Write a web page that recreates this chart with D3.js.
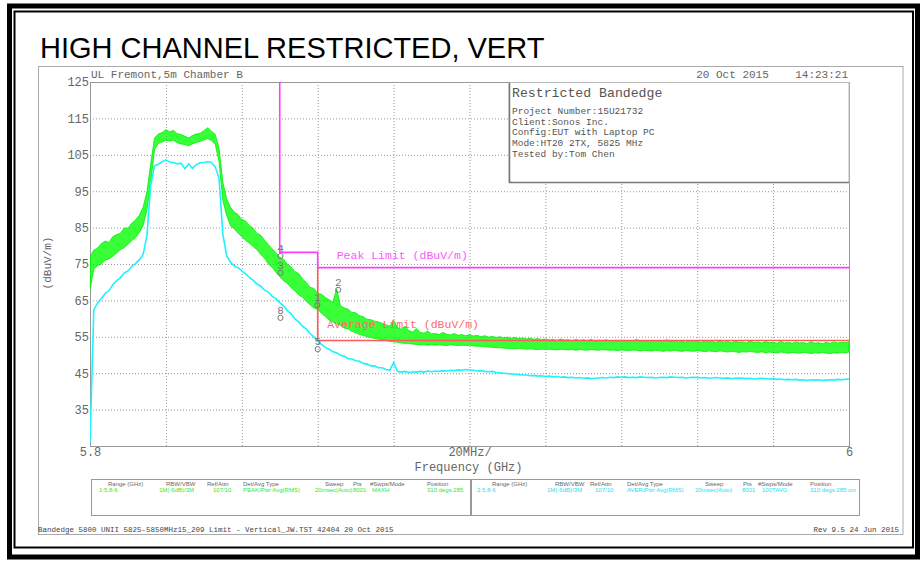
<!DOCTYPE html>
<html>
<head>
<meta charset="utf-8">
<script src="https://cdn.jsdelivr.net/npm/d3@7"></script>
<style>
  body { margin: 0; background: #fff; }
  .mono { font-family: "Liberation Mono", "DejaVu Sans Mono", monospace; }
</style>
</head>
<body>
<div id="chart"></div>
<script>
/*
 Restricted bandedge plot - high channel, vertical
*/

// sweep settings (GHz), 201 display points
var sweepStart = 5.8;
var sweepStop = 6.0;

// trace 1 : peak / MAXH, drawn as min-max envelope (dBuV/m)
var peakHi = [
  77.0, 78.8, 79.4, 80.6, 81.3, 80.9, 82.5, 83.1, 83.4, 84.9,
  84.8, 86.2, 87.1, 88.4, 90.6, 94.8, 102.5, 109.6, 110.7, 111.1,
  111.9, 111.3, 111.7, 110.8, 110.6, 110.1, 109.6, 110.3, 110.7, 110.9,
  111.6, 112.4, 111.5, 110.6, 106.8, 97.5, 92.9, 90.6, 89.3, 88.6,
  87.2, 86.8, 85.6, 84.8, 83.4, 82.9, 81.5, 80.3, 79.2, 78.1,
  76.8, 76.3, 74.9, 74.2, 72.9, 72.4, 70.9, 69.9, 68.6, 68.3,
  66.9, 66.7, 65.8, 65.2, 64.5, 68.2, 63.5, 62.9, 62.6, 61.7,
  61.6, 60.8, 60.5, 59.8, 59.7, 59.3, 59.1, 58.7, 58.3, 57.9,
  59.6, 57.5, 57.1, 57.9, 56.7, 56.3, 57.3, 56.2, 56.0, 56.6,
  55.8, 55.9, 55.6, 56.2, 55.7, 55.5, 55.9, 55.4, 55.6, 55.3,
  55.6, 55.2, 55.4, 55.0, 55.3, 54.9, 55.1, 54.8, 55.0, 54.7,
  54.9, 54.6, 54.8, 54.5, 54.7, 54.4, 54.6, 54.3, 54.5, 54.2,
  54.4, 54.1, 54.3, 54.0, 54.4, 54.1, 54.2, 53.9, 54.3, 54.0,
  54.2, 53.9, 54.3, 53.8, 54.1, 53.9, 54.2, 53.8, 54.0, 53.7,
  54.1, 53.8, 54.0, 53.7, 54.3, 53.8, 53.9, 53.6, 54.0, 53.7,
  53.9, 53.6, 54.2, 53.7, 53.9, 53.6, 53.8, 53.5, 54.0, 53.6,
  53.8, 53.5, 53.9, 53.6, 53.7, 53.4, 54.1, 53.5, 53.7, 53.4,
  53.8, 53.5, 53.6, 53.3, 53.9, 53.4, 53.6, 53.3, 53.7, 53.4,
  53.5, 53.2, 53.8, 53.3, 53.5, 53.2, 53.6, 53.3, 53.4, 53.1,
  53.7, 53.2, 53.4, 53.1, 53.5, 53.2, 53.6, 53.3, 53.5, 53.4,
  53.6
];
var peakLo = [
  68.0, 73.6, 74.6, 75.0, 76.1, 76.4, 77.1, 78.0, 78.9, 79.5,
  80.4, 81.4, 82.3, 83.6, 85.6, 89.9, 97.5, 106.4, 108.1, 108.5,
  109.0, 108.8, 109.0, 108.3, 108.0, 107.8, 107.5, 108.0, 108.4, 108.7,
  109.1, 109.5, 108.9, 107.8, 103.2, 92.5, 88.4, 85.5, 84.7, 83.5,
  82.5, 81.5, 80.7, 79.8, 78.9, 77.6, 76.6, 75.0, 74.1, 72.7,
  71.5, 70.4, 69.7, 68.5, 67.6, 66.5, 65.9, 64.7, 63.8, 62.9,
  62.5, 61.5, 60.6, 59.6, 59.1, 58.5, 58.1, 57.4, 57.2, 56.5,
  56.1, 55.6, 55.4, 55.0, 54.8, 54.5, 54.4, 54.1, 54.0, 53.7,
  53.6, 53.5, 53.3, 53.2, 53.2, 53.0, 52.9, 52.8, 52.8, 52.7,
  52.8, 52.7, 52.8, 52.7, 52.6, 52.8, 52.7, 52.6, 52.7, 52.6,
  52.7, 52.5, 52.4, 52.4, 52.3, 52.2, 52.1, 52.0, 52.0, 51.9,
  51.8, 51.8, 51.7, 51.8, 51.7, 51.6, 51.7, 51.6, 51.5, 51.6,
  51.5, 51.6, 51.5, 51.4, 51.6, 51.5, 51.4, 51.5, 51.3, 51.5,
  51.4, 51.3, 51.5, 51.4, 51.3, 51.5, 51.4, 51.3, 51.4, 51.2,
  51.4, 51.3, 51.2, 51.4, 51.3, 51.1, 51.3, 51.2, 51.1, 51.3,
  51.2, 51.0, 51.2, 51.1, 51.3, 51.1, 51.0, 51.2, 51.1, 51.0,
  51.2, 51.1, 50.9, 51.1, 51.0, 50.9, 51.1, 51.0, 50.8, 51.0,
  50.9, 50.7, 50.9, 50.8, 51.0, 50.8, 50.7, 50.9, 50.6, 50.8,
  50.7, 50.6, 50.8, 50.7, 50.5, 50.7, 50.6, 50.5, 50.7, 50.6,
  50.4, 50.6, 50.5, 50.7, 50.5, 50.4, 50.6, 50.5, 50.7, 50.6,
  50.8
];

// trace 2 : average / 100 sweeps
var avgTrace = [
  26.0, 62.4, 64.3, 65.5, 66.9, 67.7, 69.3, 70.4, 71.2, 72.5,
  73.1, 74.3, 75.1, 76.2, 77.6, 82.8, 96.8, 101.9, 102.4, 103.1,
  103.6, 103.0, 102.9, 102.5, 102.7, 101.2, 102.5, 101.3, 102.3, 102.8,
  102.9, 103.1, 102.9, 101.7, 98.6, 83.2, 77.3, 75.5, 74.5, 74.0,
  73.1, 72.3, 71.3, 70.5, 69.5, 68.9, 67.8, 67.3, 66.1, 65.5,
  64.4, 63.5, 62.2, 61.3, 59.9, 59.1, 57.9, 57.1, 55.9, 55.0,
  53.8, 52.9, 52.1, 51.6, 50.9, 50.6, 49.9, 49.7, 49.0, 48.9,
  48.4, 48.3, 47.7, 47.5, 47.0, 47.0, 46.5, 46.5, 46.0, 45.8,
  47.9, 45.5, 45.3, 45.5, 45.2, 45.4, 45.3, 45.5, 45.3, 45.6,
  45.4, 45.6, 45.5, 45.7, 45.6, 45.8, 45.7, 45.9, 45.8, 46.0,
  45.9, 45.8, 45.6, 45.7, 45.5, 45.4, 45.5, 45.2, 45.1, 45.0,
  44.9, 44.8, 44.7, 44.6, 44.5, 44.5, 44.3, 44.4, 44.2, 44.3,
  44.1, 44.2, 44.0, 44.1, 43.9, 44.0, 43.8, 43.9, 43.7, 43.8,
  43.6, 43.7, 43.5, 43.6, 43.7, 43.8, 43.7, 43.9, 43.8, 44.0,
  43.9, 44.0, 43.8, 43.9, 43.8, 44.0, 43.9, 43.8, 43.9, 43.7,
  43.8, 43.9, 43.8, 44.0, 43.9, 43.8, 43.9, 43.7, 43.8, 43.9,
  43.8, 43.7, 43.8, 43.6, 43.7, 43.8, 43.7, 43.6, 43.7, 43.5,
  43.6, 43.7, 43.6, 43.5, 43.6, 43.4, 43.5, 43.6, 43.5, 43.4,
  43.5, 43.3, 43.4, 43.2, 43.3, 43.2, 43.3, 43.1, 43.2, 43.0,
  43.2, 43.1, 43.2, 43.0, 43.1, 43.2, 43.1, 43.3, 43.2, 43.3,
  43.4
];

// limit lines
var peakLimitFreq = [5.85, 5.85, 5.86, 5.86, 6.0];
var peakLimitVal = [130, 78.2, 78.2, 74, 74];
var avgLimitFreq = [5.86, 5.86, 6.0];
var avgLimitVal = [74, 54, 54];

// markers
var markerLabels = ["4", "3", "2", "1", "8", "5"];
var markerFreq = [5.8502, 5.8502, 5.8654, 5.8599, 5.8502, 5.8600];
var markerVal = [77.2, 72.6, 67.9, 63.7, 60.2, 51.6];

// axes
var yTickValues = [35, 45, 55, 65, 75, 85, 95, 105, 115, 125];
var yGridValues = [35, 45, 55, 65, 75, 85, 95, 105, 115];
var xGridValues = [5.82, 5.84, 5.86, 5.88, 5.90, 5.92, 5.94, 5.96, 5.98];
var xTickValues = [5.8, 5.9, 6.0];
var xTickLabels = ["5.8", "20MHz/", "6"];

// info box / table texts
var infoLines = ["Project Number:15U21732", "Client:Sonos Inc.", "Config:EUT with Laptop PC",
  "Mode:HT20 2TX, 5825 MHz", "Tested by:Tom Chen"];
var tableHeads = ["Range (GHz)", "RBW/VBW", "Ref/Attn", "Det/Avg Type", "Sweep", "Pts", "#Swps/Mode", "Position"];
var trace1Setup = ["1:5.8-6", "1M(-6dB)/3M", "107/10", "PEAK/Pwr Avg(RMS)", "20msec(Auto)", "8001", "MAXH", "310 degs 285"];
var trace2Setup = ["2:5.8-6", "1M(-6dB)/3M", "107/10", "AVER/Pwr Avg(RMS)", "20msec(Auto)", "8001", "100TAVG", "310 degs 285 cm"];

var svgWidth = 923;
var svgHeight = 562;

var margin = { top: 82, right: 74, bottom: 116, left: 90 };
var width = svgWidth - margin.left - margin.right;
var height = svgHeight - margin.top - margin.bottom;

var svg = d3.select("#chart")
  .append("svg")
  .attr("width", svgWidth)
  .attr("height", svgHeight);

// page frame (double line)
svg.append("rect")
  .attr("x", 9.5).attr("y", 6).attr("width", 908).attr("height", 551)
  .attr("fill", "none").attr("stroke", "#000").attr("stroke-width", 5);
svg.append("rect")
  .attr("x", 14.5).attr("y", 11.5).attr("width", 898.5).attr("height", 536)
  .attr("fill", "none").attr("stroke", "#000").attr("stroke-width", 2);

svg.append("text")
  .attr("x", 40).attr("y", 58)
  .attr("font-family", "'Liberation Sans', Arial, sans-serif")
  .attr("font-size", 29)
  .text("HIGH CHANNEL RESTRICTED, VERT");

// analyzer panel
svg.append("rect")
  .attr("x", 38.5).attr("y", 66.5).attr("width", 864.5).attr("height", 468)
  .attr("fill", "#fff").attr("stroke", "#aaa");

var chartGroup = svg.append("g")
  .attr("transform", `translate(${margin.left}, ${margin.top})`);

// scales
var xScale = d3.scaleLinear().domain([sweepStart, sweepStop]).range([0, width]);
var yScale = d3.scaleLinear().domain([25, 125]).range([height, 0]);
var step = (sweepStop - sweepStart) / (avgTrace.length - 1);
var freqAt = i => sweepStart + i * step;

// grid
var gridY = chartGroup.append("g")
  .call(d3.axisLeft(yScale).tickValues(yGridValues).tickSize(-width).tickFormat(""));
var gridX = chartGroup.append("g")
  .call(d3.axisBottom(xScale).tickValues(xGridValues).tickSize(height).tickFormat(""));
[gridY, gridX].forEach(function(g) {
  g.select(".domain").remove();
  g.selectAll("line").attr("stroke", "#999").attr("stroke-dasharray", "1,2");
});

// y tick labels
var yAxis = chartGroup.append("g")
  .call(d3.axisLeft(yScale).tickValues(yTickValues).tickSize(0).tickPadding(1));
yAxis.select(".domain").remove();
yAxis.selectAll("text")
  .attr("class", "mono").attr("font-size", 12).attr("fill", "#666");

// x tick labels
var xAxis = chartGroup.append("g")
  .attr("transform", `translate(0, ${height})`)
  .call(d3.axisBottom(xScale).tickValues(xTickValues).tickSize(0).tickPadding(1.5)
    .tickFormat((d, i) => xTickLabels[i]));
xAxis.select(".domain").remove();
xAxis.selectAll("text")
  .attr("class", "mono").attr("font-size", 12).attr("fill", "#666");

// plot frame
chartGroup.append("rect")
  .attr("x", 0.5).attr("y", 0.5).attr("width", width).attr("height", height)
  .attr("fill", "none").attr("stroke", "#999");

// info box
var boxX = 419, boxW = 340, boxH = 100;
chartGroup.append("rect")
  .attr("x", boxX).attr("y", 0.5).attr("width", boxW).attr("height", boxH)
  .attr("fill", "#fff").attr("stroke", "#bbb");
chartGroup.append("path")
  .attr("d", `M${boxX + 0.5},0.5 V${boxH + 0.5} H${boxX + boxW}`)
  .attr("fill", "none").attr("stroke", "#777").attr("stroke-width", 1.5);
chartGroup.append("text")
  .attr("class", "mono").attr("x", boxX + 3).attr("y", 15)
  .attr("font-size", 13.2).attr("fill", "#555")
  .text("Restricted Bandedge");
chartGroup.selectAll(".info")
  .data(infoLines)
  .enter()
  .append("text")
  .attr("class", "mono")
  .attr("x", boxX + 3)
  .attr("y", (d, i) => [32, 42.5, 53, 63.5, 75][i])
  .attr("font-size", 9.5).attr("fill", "#555")
  .text(d => d);

// traces + limits, clipped to the plot
chartGroup.append("clipPath").attr("id", "plotClip")
  .append("rect").attr("width", width).attr("height", height);
var plot = chartGroup.append("g").attr("clip-path", "url(#plotClip)");

// peak envelope (min / max of each display point)
plot.append("path")
  .datum(peakHi)
  .attr("fill", "#00ff00")
  .attr("fill-opacity", 0.78)
  .attr("stroke", "#00ee00")
  .attr("stroke-width", 0.8)
  .attr("d", d3.area()
    .x((d, i) => xScale(freqAt(i)))
    .y0((d, i) => yScale(peakLo[i]))
    .y1(d => yScale(d)));

plot.append("path")
  .datum(avgTrace)
  .attr("fill", "none")
  .attr("stroke", "#1ef2ff")
  .attr("stroke-width", 1.6)
  .attr("d", d3.line()
    .x((d, i) => xScale(freqAt(i)))
    .y(d => yScale(d)));

var limitLine = d3.line()
  .x(d => xScale(d[0]))
  .y(d => yScale(d[1]));

plot.append("path")
  .datum(avgLimitFreq.map((f, i) => [f, avgLimitVal[i]]))
  .attr("fill", "none").attr("stroke", "#ff5a5a").attr("stroke-width", 1.6)
  .attr("d", limitLine);

plot.append("path")
  .datum(peakLimitFreq.map((f, i) => [f, peakLimitVal[i]]))
  .attr("fill", "none").attr("stroke", "#ff3cff").attr("stroke-width", 1.6)
  .attr("d", limitLine);

chartGroup.append("text")
  .attr("class", "mono")
  .attr("x", xScale(5.865)).attr("y", yScale(74) - 9)
  .attr("font-size", 11.5).attr("fill", "#ff55ff")
  .text("Peak Limit (dBuV/m)");
chartGroup.append("text")
  .attr("class", "mono")
  .attr("x", xScale(5.8625)).attr("y", yScale(54) - 12)
  .attr("font-size", 11.5).attr("fill", "#ff6a6a")
  .text("Average Limit (dBuV/m)");

// markers
var markers = markerLabels.map((m, i) => ({ label: m, f: markerFreq[i], v: markerVal[i] }));
chartGroup.selectAll(".mk")
  .data(markers)
  .enter()
  .append("circle")
  .attr("cx", d => xScale(d.f))
  .attr("cy", d => yScale(d.v))
  .attr("r", 2.6)
  .attr("fill", "none").attr("stroke", "#777").attr("stroke-width", 1);
chartGroup.selectAll(".mklabel")
  .data(markers)
  .enter()
  .append("text")
  .attr("class", "mono")
  .attr("x", d => xScale(d.f))
  .attr("y", d => yScale(d.v) - 4)
  .attr("text-anchor", "middle")
  .attr("font-size", 11).attr("fill", "#777")
  .text(d => d.label);

// header texts
chartGroup.append("text")
  .attr("class", "mono").attr("x", 1).attr("y", -4)
  .attr("font-size", 11).attr("fill", "#666")
  .text("UL Fremont,5m Chamber B");
chartGroup.append("text")
  .attr("class", "mono").attr("x", width - 1).attr("y", -4)
  .attr("text-anchor", "end")
  .attr("font-size", 11).attr("fill", "#666")
  .attr("xml:space", "preserve")
  .text("20 Oct 2015    14:23:21");

// axis titles
chartGroup.append("text")
  .attr("class", "mono")
  .attr("transform", `translate(-39, ${height / 2 - 1}) rotate(-90)`)
  .attr("text-anchor", "middle")
  .attr("font-size", 11).attr("fill", "#666")
  .text("(dBuV/m)");
chartGroup.append("text")
  .attr("class", "mono")
  .attr("x", xScale(5.9) - 1).attr("y", height + 25)
  .attr("text-anchor", "middle")
  .attr("font-size", 12).attr("fill", "#666")
  .text("Frequency (GHz)");

// setup tables
var tables = [
  { x: 91, w: 379, color: "#2ee82e", vals: trace1Setup,
    hx: [108, 166, 207, 243, 325, 353, 370, 427], vx: [99, 159, 213, 243, 315, 353, 372, 427] },
  { x: 471, w: 388, color: "#22e0f0", vals: trace2Setup,
    hx: [492, 555, 590, 627, 705, 743, 758, 810], vx: [477, 547, 595, 627, 695, 742, 762, 810] }
];
tables.forEach(function(t) {
  svg.append("rect")
    .attr("x", t.x + 0.5).attr("y", 479.5).attr("width", t.w).attr("height", 36)
    .attr("fill", "none").attr("stroke", "#999");
  svg.selectAll(null)
    .data(tableHeads)
    .enter()
    .append("text")
    .attr("x", (d, i) => t.hx[i]).attr("y", 486)
    .attr("font-family", "'Liberation Sans Narrow', 'Liberation Sans', sans-serif")
    .attr("font-size", 6).attr("fill", "#666")
    .text(d => d);
  svg.selectAll(null)
    .data(t.vals)
    .enter()
    .append("text")
    .attr("x", (d, i) => t.vx[i]).attr("y", 492)
    .attr("font-family", "'Liberation Sans Narrow', 'Liberation Sans', sans-serif")
    .attr("font-size", 6).attr("fill", t.color)
    .text(d => d);
});

// footer
svg.append("text")
  .attr("class", "mono").attr("x", 38).attr("y", 532)
  .attr("font-size", 7.5).attr("fill", "#444")
  .text("Bandedge 5800 UNII 5825-5850MHz15_209 Limit - Vertical_JW.TST 42404 20 Oct 2015");
svg.append("text")
  .attr("class", "mono").attr("x", 899).attr("y", 532)
  .attr("text-anchor", "end")
  .attr("font-size", 7.5).attr("fill", "#444")
  .text("Rev 9.5 24 Jun 2015");
</script>
</body>
</html>
